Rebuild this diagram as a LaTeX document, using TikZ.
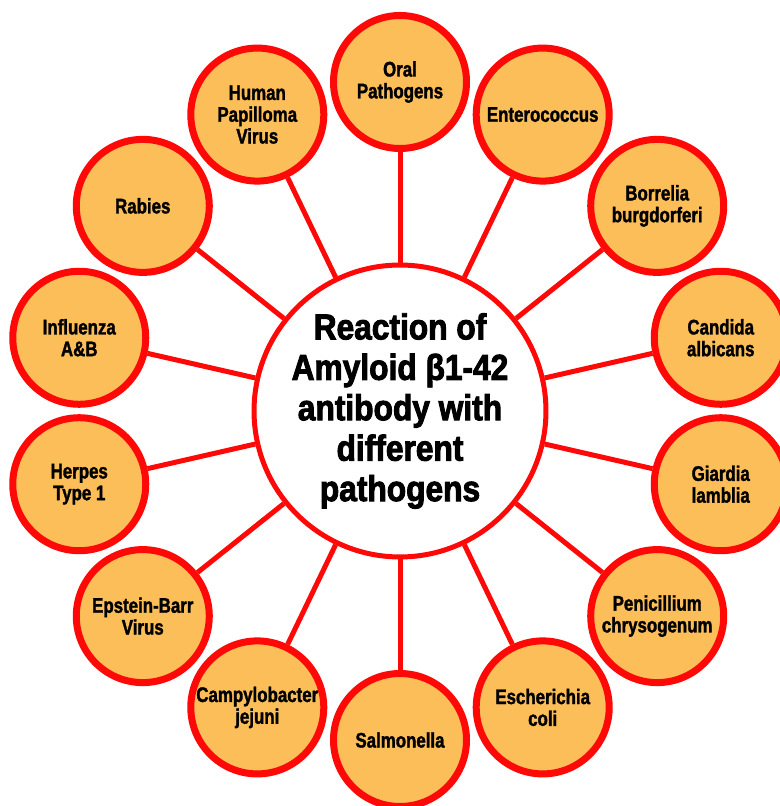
\documentclass[tikz,border=0pt]{standalone}
\usepackage{fontspec}
\usepackage{tikz}
\usetikzlibrary{positioning}
\newfontfamily\leaffont{Liberation Sans}[FakeStretch=0.8, FakeBold=1.5]
\newfontfamily\hubfont{Liberation Sans}[FakeStretch=0.88, FakeBold=2.5]
\definecolor{ringred}{RGB}{255,8,8}
\definecolor{leafbg}{RGB}{252,190,88}
\tikzset{
  hub/.style={circle, draw=ringred, line width=0.1cm, fill=white, minimum size=5.74cm,
    align=center, inner sep=0pt, font=\hubfont\bfseries\fontsize{20.5}{23}\selectfont},
  leaf/.style={circle, draw=ringred, line width=0.14cm, fill=leafbg, minimum size=2.66cm,
    align=center, inner sep=0pt, font=\leaffont\bfseries\fontsize{12}{12.4}\selectfont},
  link/.style={draw=ringred, line width=0.1cm}
}

\begin{document}
\begin{tikzpicture}
    \useasboundingbox (-8,-7.9) rectangle (7.58,8.22);

    % Centre
    \node[hub] (hub) at (0,0) {Reaction of\\Amyloid β1-42\\antibody with\\different\\pathogens};

    % Pathogens, clockwise from the top
    \node[leaf] (oral)   at (90:6.58)     {Oral\\Pathogens};
    \node[leaf] (entero) at (64.29:6.58)  {Enterococcus};
    \node[leaf] (borr)   at (38.57:6.58)  {Borrelia\\burgdorferi};
    \node[leaf] (cand)   at (12.86:6.58)  {Candida\\albicans};
    \node[leaf] (giard)  at (-12.86:6.58) {Giardia\\lamblia};
    \node[leaf] (penic)  at (-38.57:6.58) {Penicillium\\chrysogenum};
    \node[leaf] (ecoli)  at (-64.29:6.58) {Escherichia\\coli};
    \node[leaf] (salm)   at (-90:6.58)    {Salmonella};
    \node[leaf] (campy)  at (-115.71:6.58) {Campylobacter\\jejuni};
    \node[leaf] (ebv)    at (-141.43:6.58) {Epstein-Barr\\Virus};
    \node[leaf] (herpes) at (-167.14:6.58) {Herpes\\Type 1};
    \node[leaf] (flu)    at (167.14:6.58)  {Influenza\\A\&B};
    \node[leaf] (rabies) at (141.43:6.58)  {Rabies};
    \node[leaf] (hpv)    at (115.71:6.58)  {Human\\Papilloma\\Virus};

    % Spokes
    \draw[link] (hub) -- (oral);
    \draw[link] (hub) -- (entero);
    \draw[link] (hub) -- (borr);
    \draw[link] (hub) -- (cand);
    \draw[link] (hub) -- (giard);
    \draw[link] (hub) -- (penic);
    \draw[link] (hub) -- (ecoli);
    \draw[link] (hub) -- (salm);
    \draw[link] (hub) -- (campy);
    \draw[link] (hub) -- (ebv);
    \draw[link] (hub) -- (herpes);
    \draw[link] (hub) -- (flu);
    \draw[link] (hub) -- (rabies);
    \draw[link] (hub) -- (hpv);
\end{tikzpicture}
\end{document}
